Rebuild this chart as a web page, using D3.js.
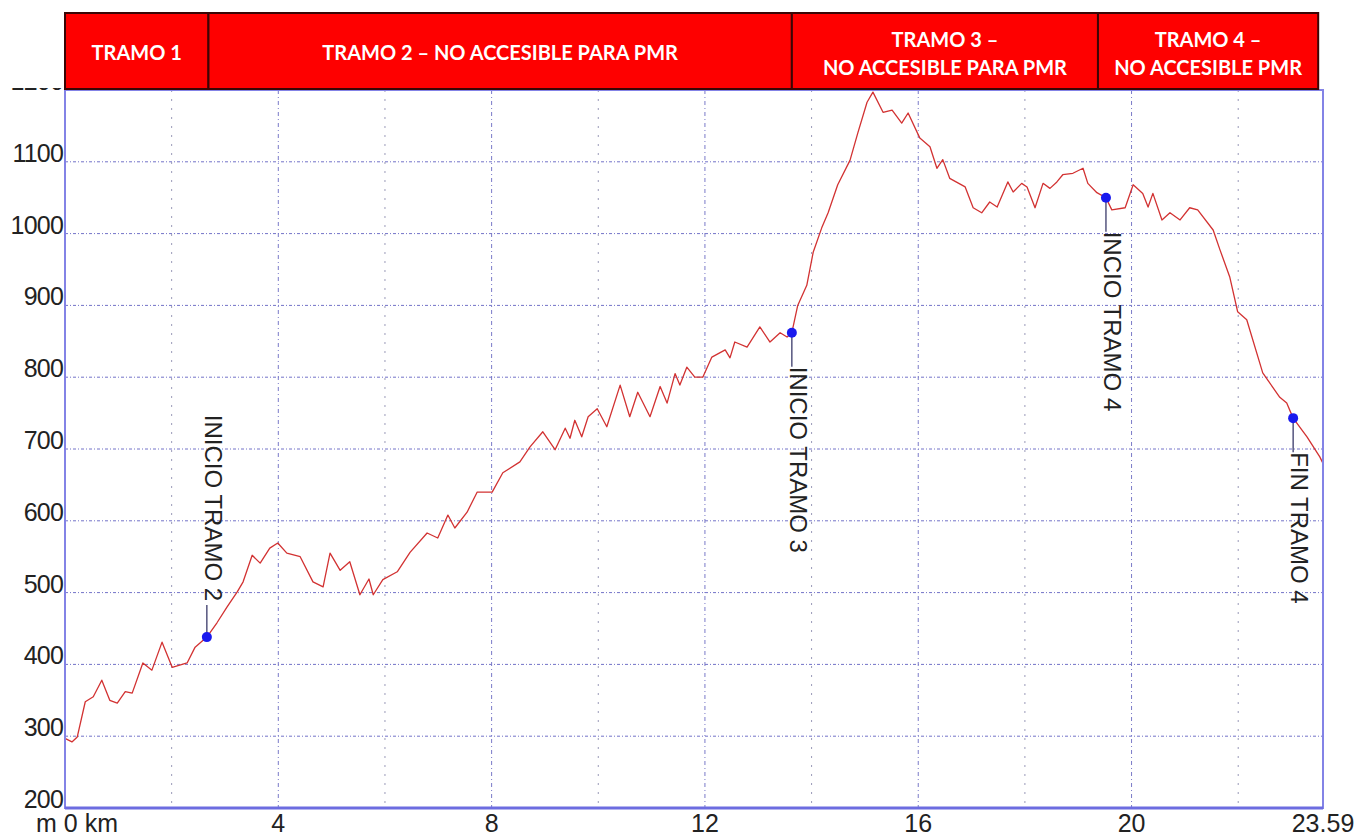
<!DOCTYPE html>
<html>
<head>
<meta charset="utf-8">
<script src="https://cdn.jsdelivr.net/npm/d3@7/dist/d3.min.js"></script>
<style>
  html, body { margin: 0; padding: 0; background: #ffffff; }
  svg { display: block; }
</style>
</head>
<body>
<svg id="chart" width="1359" height="837"></svg>
<script>
// ---------- DATA ----------
// Elevation profile: distance (km) and elevation (m)
const distanceKm = [0.00,0.13,0.23,0.38,0.53,0.69,0.84,0.98,1.13,1.26,1.46,1.63,1.82,2.01,2.29,2.44,2.66,2.85,3.04,3.23,3.34,3.51,3.66,3.84,3.99,4.16,4.41,4.65,4.84,4.97,5.16,5.34,5.53,5.70,5.78,5.96,6.23,6.47,6.79,6.99,7.18,7.31,7.54,7.73,8.01,8.21,8.53,8.72,8.96,9.19,9.38,9.47,9.56,9.69,9.81,9.98,10.16,10.41,10.59,10.74,10.97,11.16,11.29,11.44,11.53,11.66,11.81,11.96,12.13,12.38,12.47,12.56,12.79,13.03,13.22,13.41,13.54,13.63,13.74,13.91,14.03,14.19,14.31,14.49,14.72,14.87,15.04,15.15,15.34,15.51,15.69,15.81,16.03,16.22,16.35,16.46,16.59,16.88,17.03,17.19,17.34,17.48,17.68,17.78,17.94,18.04,18.19,18.34,18.47,18.60,18.71,18.90,19.09,19.18,19.35,19.52,19.63,19.88,20.03,20.21,20.31,20.40,20.57,20.72,20.91,21.09,21.24,21.53,21.66,21.84,21.99,22.16,22.46,22.78,22.91,23.03,23.29,23.53,23.59];
const elevationM = [297,292,299,348,355,378,350,346,362,360,402,392,431,396,402,424,438,458,480,501,515,552,541,562,569,555,550,515,508,555,531,543,497,519,497,518,529,556,583,576,608,590,612,640,640,667,682,703,724,699,729,715,740,717,745,756,731,789,745,779,745,787,764,805,789,814,800,800,828,838,827,849,842,870,849,862,856,862,900,928,974,1008,1029,1068,1102,1141,1183,1197,1169,1172,1154,1168,1133,1121,1091,1103,1077,1065,1036,1029,1044,1037,1072,1058,1070,1065,1036,1070,1063,1072,1082,1084,1091,1070,1057,1050,1033,1036,1068,1056,1037,1056,1019,1029,1019,1036,1033,1005,977,940,891,880,806,772,764,743,717,689,680];

// Section markers
const markerKm    = [2.66, 13.63, 19.52, 23.03];
const markerElev  = [438, 862, 1050, 743];
const markerLabel = ["INICIO TRAMO 2", "INICIO TRAMO 3", "INCIO TRAMO 4", "FIN TRAMO 4"];
const markerAbove = [true, false, false, false];

// Header sections (km edges) and their labels
const sectionEdgesKm = [0, 2.69, 13.63, 19.37, 23.50];
const sectionLabels = [
  ["TRAMO 1"],
  ["TRAMO 2 – NO ACCESIBLE PARA PMR"],
  ["TRAMO 3 –", "NO ACCESIBLE PARA PMR"],
  ["TRAMO 4 –", "NO ACCESIBLE PMR"]
];

// Axis ticks
const yTicks = [200,300,400,500,600,700,800,900,1000,1100,1200];
const xGridKm = [2,4,6,8,10,12,14,16,18,20,22];
const xTickKm = [0,4,8,12,16,20,23.59];
const xTickLabels = ["m 0 km","4","8","12","16","20","23.59"];

// ---------- CHART ----------
const svg = d3.select("#chart");
const pLeft = 65, pRight = 1323, pTop = 90, pBottom = 808;

const x = d3.scaleLinear().domain([0, 23.59]).range([pLeft, pRight]);
const y = d3.scaleLinear().domain([200, 1200]).range([pBottom, pTop]);

// Gridlines horizontal
svg.append("g").selectAll("line").data(yTicks.filter(v => v > 200 && v < 1200)).join("line")
  .attr("x1", pLeft).attr("x2", pRight)
  .attr("y1", d => y(d)).attr("y2", d => y(d))
  .attr("stroke", "#7373c8").attr("stroke-width", 1)
  .attr("stroke-dasharray", "3,2,1,2");

// Gridlines vertical
svg.append("g").selectAll("line").data(xGridKm).join("line")
  .attr("x1", d => x(d)).attr("x2", d => x(d))
  .attr("y1", pTop).attr("y2", pBottom)
  .attr("stroke", d => (d % 4 === 0) ? "#7a7ac8" : "#9a9ab8")
  .attr("stroke-width", 1)
  .attr("stroke-dasharray", d => (d % 4 === 0) ? "4,3,1,3" : "2,7");

// Y tick labels (baseline on the gridline)
svg.append("g").selectAll("text").data(yTicks).join("text")
  .attr("x", pLeft - 2).attr("y", d => y(d))
  .attr("text-anchor", "end")
  .attr("font-family", "Liberation Sans, Arial, sans-serif")
  .attr("font-size", 25).attr("letter-spacing", -0.8)
  .attr("fill", "#222")
  .text(d => d);

// X tick labels
svg.append("g").selectAll("text").data(xTickKm).join("text")
  .attr("x", (d, i) => i === 0 ? x(d) + 12 : x(d))
  .attr("y", 832)
  .attr("text-anchor", "middle")
  .attr("font-family", "Liberation Sans, Arial, sans-serif")
  .attr("font-size", 25)
  .attr("fill", "#222")
  .text((d, i) => xTickLabels[i]);

// Profile line
const pts = distanceKm.map((d, i) => [d, elevationM[i]]);
svg.append("path")
  .datum(pts)
  .attr("fill", "none")
  .attr("stroke", "#d23232")
  .attr("stroke-width", 1.3)
  .attr("stroke-linejoin", "round")
  .attr("d", d3.line().x(d => x(d[0])).y(d => y(d[1])));

// Markers: leader lines, dots, rotated labels
const mk = svg.append("g");
markerKm.forEach((k, i) => {
  const cx = x(k), cy = y(markerElev[i]);
  const above = markerAbove[i];
  const lineEnd = above ? cy - 32 : cy + 34;
  mk.append("line")
    .attr("x1", cx).attr("x2", cx).attr("y1", cy).attr("y2", lineEnd)
    .attr("stroke", "#3a3a6a").attr("stroke-width", 1.3);
  mk.append("circle").attr("cx", cx).attr("cy", cy).attr("r", 5).attr("fill", "#1a1aee");
  mk.append("text")
    .attr("transform", `translate(${cx - 2},${above ? lineEnd - 4 : lineEnd})rotate(90)`)
    .attr("text-anchor", above ? "end" : "start")
    .attr("font-family", "Liberation Sans, Arial, sans-serif")
    .attr("font-size", 24)
    .attr("fill", "#222")
    .text(markerLabel[i]);
});

// Plot frame
svg.append("rect")
  .attr("x", pLeft).attr("y", pTop).attr("width", pRight - pLeft).attr("height", pBottom - pTop)
  .attr("fill", "none").attr("stroke", "#8383e6").attr("stroke-width", 2);
svg.append("line")
  .attr("x1", pLeft).attr("x2", pRight).attr("y1", pBottom).attr("y2", pBottom)
  .attr("stroke", "#6c6ce0").attr("stroke-width", 3);

// White area left of the header (hides most of the top tick label, as in the source)
svg.append("rect").attr("x", 0).attr("y", 0).attr("width", pLeft - 1).attr("height", pTop - 2)
  .attr("fill", "#ffffff");

// Header
const hdr = svg.append("g");
const hTop = 13, hBottom = 89;
sectionLabels.forEach((lines, i) => {
  const x0 = x(sectionEdgesKm[i]), x1 = x(sectionEdgesKm[i + 1]);
  hdr.append("rect")
    .attr("x", x0).attr("y", hTop).attr("width", x1 - x0).attr("height", hBottom - hTop)
    .attr("fill", "#fe0000").attr("stroke", "#3a0505").attr("stroke-width", 2);
  const cxm = (x0 + x1) / 2;
  const startY = lines.length === 1 ? 60 : 47;
  lines.forEach((t, j) => {
    hdr.append("text")
      .attr("x", cxm).attr("y", startY + j * 28)
      .attr("text-anchor", "middle")
      .attr("font-family", "Lato, sans-serif")
      .attr("font-weight", "bold")
      .attr("font-size", 20)
      .attr("fill", "#ffffff")
      .text(t);
  });
});
</script>
</body>
</html>
